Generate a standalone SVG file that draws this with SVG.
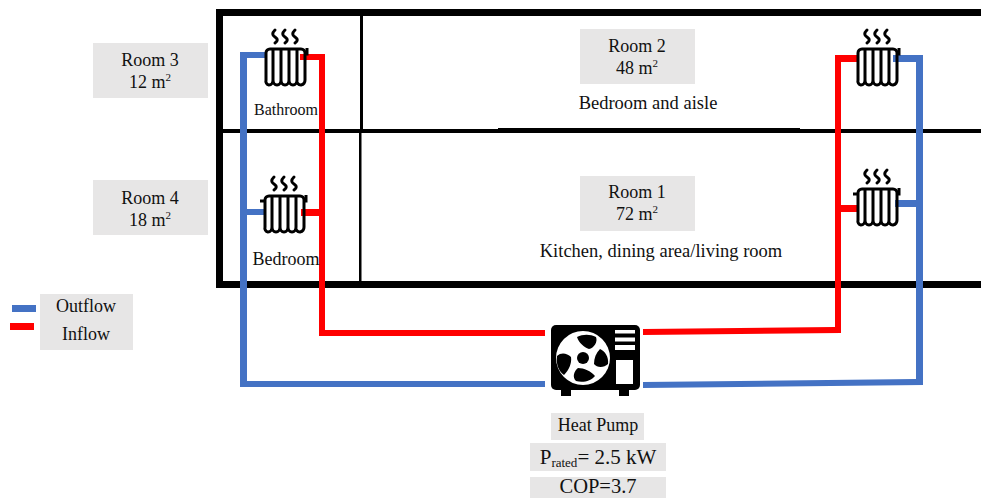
<svg xmlns="http://www.w3.org/2000/svg" width="981" height="498" viewBox="0 0 981 498">
<style>
.lbl{fill:#E7E6E6}
text{font-family:"Liberation Serif","Times New Roman",serif;font-size:18px;fill:#111;text-anchor:middle}
.wall{fill:#000}
.blue{fill:#4472C4}
.red{fill:#FF0000}
.fin{fill:none;stroke:#000;stroke-width:3}
.steam{fill:none;stroke:#000;stroke-width:3;stroke-linecap:round}
.wl{fill:#fff}
</style>
<defs>
<g id="rad">
<path class="steam" d="M10-18c-3 3-3 5 0 7 3 2 3 4 0 6M20-18c-3 3-3 5 0 7 3 2 3 4 0 6M30-18c-3 3-3 5 0 7 3 2 3 4 0 6"/>
<path class="fin" d="M5 1H36a4 4 0 0 1 4 4V32a5 5 0 0 1-4 5a4 4 0 0 1-4-5V1M32 32a4 5 0 0 1-8 0V1M24 32a4 5 0 0 1-8 0V1M16 32a4 5 0 0 1-8 0V1M8 32a4 5 0 0 1-4 5a4 4 0 0 1-3-5V5a4 4 0 0 1 4-4"/>
<path class="fin" d="M40 6h2V0"/>
</g>
<path id="stub" class="fin" d="M1 6H-4"/>
</defs>

<g id="walls">
<rect class="wall" x="216" y="9" width="765" height="7"/>
<rect class="wall" x="216" y="9" width="7" height="279"/>
<rect class="wall" x="216" y="281" width="765" height="7"/>
<rect class="wall" x="222" y="129" width="759" height="4"/>
<rect class="wall" x="498" y="128" width="302" height="2"/>
<rect class="wall" x="360" y="16" width="3" height="114"/>
<rect class="wall" x="359" y="130" width="2.500" height="152"/>
</g>

<g id="connectors">
<path class="blue" d="M240 52H266V58H247V381H545V387H240Z"/>
<path class="red" d="M300 54H325V330H545V336H319V60H300Z"/>
<rect class="blue" x="247" y="209" width="19" height="6"/>
<rect class="red" x="301" y="209" width="24" height="7"/>
<path class="red" d="M835 55H859V62H841V333L643 335V329L835 327Z"/>
<rect class="red" x="841" y="205" width="18" height="7"/>
<path class="blue" d="M893 55H923V385L643 388V382L916 379V62H893Z"/>
<rect class="blue" x="895" y="200" width="21" height="7"/>
</g>

<g id="radiator-3"><use href="#rad" x="265" y="48"/></g>
<g id="radiator-4"><use href="#rad" x="264" y="195"/><use href="#stub" x="264" y="195"/></g>
<g id="radiator-2"><use href="#rad" x="857" y="48"/></g>
<g id="radiator-1"><use href="#rad" x="857" y="188"/><use href="#stub" x="857" y="188"/></g>

<g id="room-3">
<rect class="lbl" x="93" y="43" width="115" height="55"/>
<text x="150" y="66">Room 3</text>
<text x="150" y="88">12 m<tspan font-size="11" dy="-7">2</tspan></text>
<text x="286" y="115" style="font-size:16px">Bathroom</text>
</g>
<g id="room-4">
<rect class="lbl" x="93" y="180" width="115" height="55"/>
<text x="150" y="204">Room 4</text>
<text x="150" y="226">18 m<tspan font-size="11" dy="-7">2</tspan></text>
<text x="286" y="265">Bedroom</text>
</g>
<g id="room-2">
<rect class="lbl" x="580" y="29" width="115" height="55"/>
<text x="637" y="52">Room 2</text>
<text x="637" y="74">48 m<tspan font-size="11" dy="-7">2</tspan></text>
<text x="648" y="109" style="font-size:18.500px">Bedroom and aisle</text>
</g>
<g id="room-1">
<rect class="lbl" x="580" y="176" width="115" height="55"/>
<text x="637" y="198">Room 1</text>
<text x="637" y="220">72 m<tspan font-size="11" dy="-7">2</tspan></text>
<text x="661" y="257" style="font-size:18.500px">Kitchen, dining area/living room</text>
</g>

<g id="legend">
<rect class="lbl" x="40" y="294" width="93" height="56"/>
<rect class="blue" x="12" y="305" width="24" height="7"/>
<rect class="red" x="10" y="323" width="24" height="7"/>
<text x="86" y="312">Outflow</text>
<text x="86" y="340">Inflow</text>
</g>

<g id="heat-pump">
<rect class="wall" x="551" y="325" width="89" height="65" rx="5"/>
<rect class="wall" x="561" y="385" width="10" height="11"/>
<rect class="wall" x="619" y="385" width="10" height="11"/>
<circle class="wl" cx="583" cy="358" r="27"/>
<circle class="wall" cx="583" cy="358" r="6"/>
<path class="wall" d="M577 337c6-3 13-3 19 0 2 5-2 11-7 12-5-2-10-6-12-12ZM600 349c5 2 9 8 8 15-4 4-11 4-14 0 0-6 2-11 6-15ZM595 376c-4 5-12 7-19 5-4-4-2-10 2-13 6 0 13 3 17 8ZM564 375c-6-4-8-12-7-19 4-4 10-3 14 1 1 6-2 13-7 18Z"/>
<rect class="wl" x="615" y="330" width="20" height="3.500"/>
<rect class="wl" x="615" y="337.500" width="20" height="4"/>
<rect class="wl" x="615" y="345" width="20" height="5"/>
<rect class="wl" x="616" y="360" width="17" height="24"/>
<rect class="lbl" x="551" y="413" width="93" height="27"/>
<text x="598" y="431">Heat Pump</text>
<rect class="lbl" x="530" y="443" width="136" height="28"/>
<text x="598" y="464" style="font-size:21px">P<tspan font-size="13" dy="3">rated</tspan><tspan dy="-3">= 2.5 kW</tspan></text>
<rect class="lbl" x="530" y="477" width="136" height="21"/>
<text x="598" y="493" style="font-size:20.500px">COP=3.7</text>
</g>
</svg>
